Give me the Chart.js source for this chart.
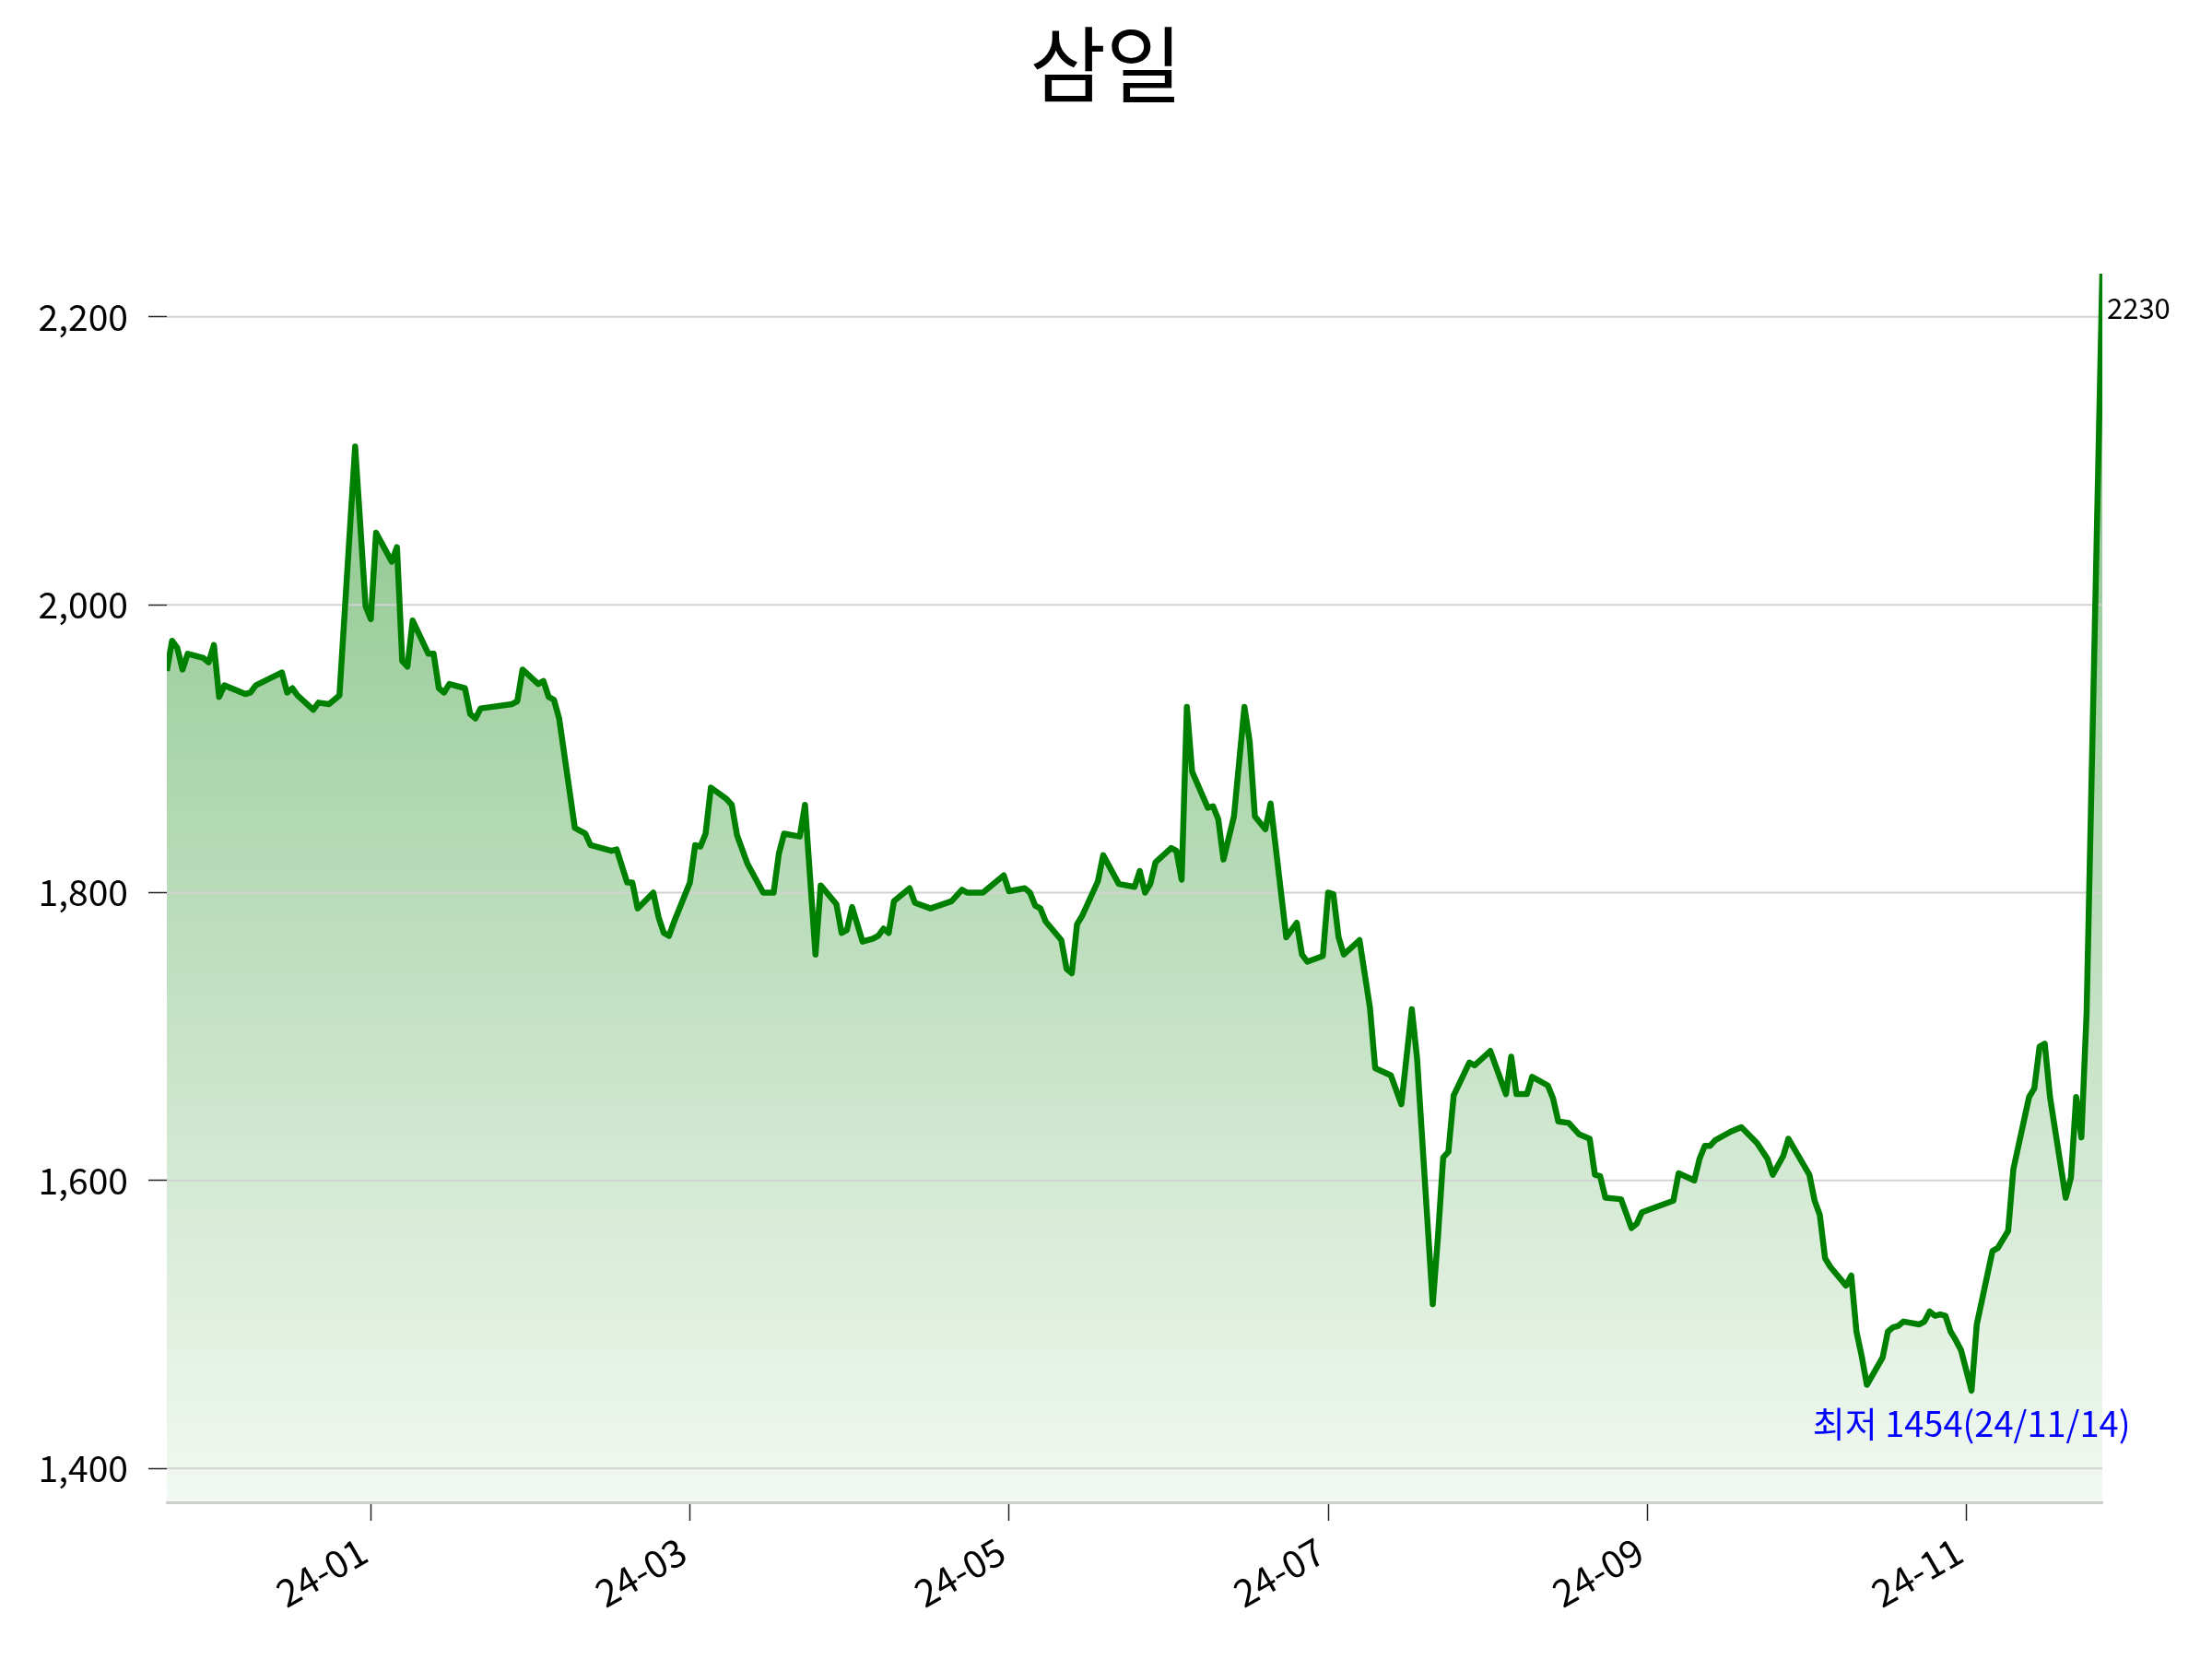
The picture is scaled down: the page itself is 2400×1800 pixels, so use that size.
<!DOCTYPE html>
<html>
<head>
<meta charset="utf-8">
<script src="https://cdn.jsdelivr.net/npm/chart.js@4.4.1/dist/chart.umd.min.js"></script>
<style>
html, body { margin: 0; padding: 0; background: #fff; }
#wrap { width: 2400px; height: 1800px; }
</style>
</head>
<body>
<div id="wrap"><canvas id="stockChart" width="2400" height="1800"></canvas></div>
<script>
// 삼일 종가 - x값은 2023-12-04 부터 경과일
var dayIdx = [
  0, 1, 2, 3, 4, 7, 8, 9, 10, 11, 15, 16, 17, 22, 23, 24, 25, 28, 29, 31,
  33, 36, 38, 39, 40, 43, 44, 45, 46, 47, 50, 51, 52, 53, 54, 57, 58, 59, 60, 66,
  67, 68, 71, 72, 73, 74, 75, 78, 79, 80, 81, 85, 86, 88, 89, 90, 93, 94, 95, 96,
  97, 100, 101, 102, 103, 104, 107, 108, 109, 111, 114, 116, 117, 118, 121, 122, 124, 125, 128, 129,
  130, 131, 133, 135, 136, 137, 138, 139, 142, 143, 146, 150, 152, 153, 156, 160, 161, 164, 165, 166,
  167, 168, 171, 172, 173, 174, 175, 178, 179, 182, 185, 186, 187, 188, 189, 192, 193, 194, 195, 196,
  199, 200, 201, 202, 204, 206, 207, 208, 210, 211, 214, 216, 217, 218, 221, 222, 223, 224, 225, 228,
  230, 231, 234, 236, 238, 239, 242, 243, 244, 245, 246, 249, 250, 253, 256, 257, 258, 260, 261, 264,
  265, 266, 268, 270, 272, 273, 274, 275, 278, 280, 281, 282, 288, 289, 292, 293, 294, 295, 296, 299,
  301, 304, 306, 307, 309, 310, 314, 315, 316, 317, 318, 321, 322, 323, 324, 325, 328, 329, 330, 331,
  332, 335, 336, 337, 338, 339, 340, 341, 342, 343, 345, 346, 349, 350, 351, 352, 353, 356, 357, 358,
  359, 360, 363, 364, 365, 366, 367, 370
];
var closePrices = [
  1954, 1975, 1970, 1955, 1966, 1963, 1960, 1972, 1936, 1944, 1938, 1939, 1944, 1953, 1939, 1942, 1937, 1927, 1932, 1931,
  1937, 2110, 1999, 1990, 2050, 2030, 2040, 1961, 1957, 1989, 1966, 1966, 1942, 1939, 1945, 1942, 1924, 1921, 1928, 1931,
  1933, 1955, 1945, 1947, 1936, 1934, 1921, 1845, 1843, 1841, 1833, 1829, 1830, 1807, 1807, 1789, 1800, 1783, 1772, 1770,
  1780, 1807, 1833, 1832, 1841, 1873, 1865, 1861, 1840, 1820, 1800, 1800, 1827, 1841, 1839, 1861, 1757, 1805, 1792, 1772,
  1774, 1790, 1766, 1768, 1770, 1775, 1772, 1794, 1803, 1793, 1789, 1794, 1802, 1800, 1800, 1812, 1801, 1803, 1800, 1791,
  1789, 1780, 1767, 1747, 1744, 1778, 1784, 1808, 1826, 1806, 1804, 1815, 1800, 1806, 1821, 1831, 1829, 1809, 1929, 1884,
  1859, 1860, 1851, 1823, 1853, 1929, 1905, 1853, 1844, 1862, 1769, 1779, 1757, 1752, 1756, 1800, 1799, 1769, 1757, 1767,
  1720, 1678, 1673, 1653, 1719, 1685, 1514, 1561, 1616, 1620, 1659, 1682, 1680, 1690, 1660, 1686, 1660, 1660, 1672, 1666,
  1657, 1641, 1640, 1632, 1629, 1604, 1603, 1588, 1587, 1567, 1570, 1578, 1586, 1605, 1600, 1615, 1624, 1624, 1628, 1634,
  1637, 1626, 1615, 1604, 1617, 1629, 1604, 1586, 1576, 1546, 1540, 1527, 1534, 1495, 1478, 1458, 1477, 1495, 1498, 1499,
  1502, 1500, 1502, 1509, 1506, 1507, 1506, 1495, 1489, 1482, 1454, 1500, 1551, 1553, 1559, 1565, 1608, 1658, 1664, 1693,
  1695, 1658, 1588, 1602, 1658, 1630, 1717, 2230
];
var yTickValues = [1400, 1600, 1800, 2000, 2200];
var xTickDays = [39, 100, 161, 222, 283, 344];
var xTickLabels = ['24-01', '24-03', '24-05', '24-07', '24-09', '24-11'];
var chartTitle = '삼일';
var minDateLabel = '24/11/14';

var lowest = Math.min.apply(null, closePrices);
var highest = Math.max.apply(null, closePrices);
var lowPos = closePrices.indexOf(lowest);
var lastPos = closePrices.length - 1;

var points = dayIdx.map(function (d, i) { return { x: d, y: closePrices[i] }; });

var FONT = '"Noto Sans CJK KR", "Noto Sans", sans-serif';
Chart.defaults.font.family = FONT;
Chart.defaults.color = '#000';

// 제목은 캔버스 가운데에
var titleText = {
  id: 'titleText',
  afterDraw: function (chart) {
    var ctx = chart.ctx;
    ctx.save();
    ctx.font = '90px ' + FONT;
    ctx.fillStyle = '#000';
    ctx.textAlign = 'center';
    ctx.textBaseline = 'middle';
    ctx.fillText(chartTitle, chart.width / 2, 70);
    ctx.restore();
  }
};

// 가로 격자선은 면 채우기 위, 선 아래에 그린다
var gridOverFill = {
  id: 'gridOverFill',
  afterDatasetDraw: function (chart, args) {
    if (args.index !== 0) return;
    var ctx = chart.ctx, area = chart.chartArea, ys = chart.scales.y;
    ctx.save();
    ctx.strokeStyle = '#d2d2d2';
    ctx.lineWidth = 2;
    ys.ticks.forEach(function (t) {
      var py = ys.getPixelForValue(t.value);
      ctx.beginPath();
      ctx.moveTo(area.left, py);
      ctx.lineTo(area.right, py);
      ctx.stroke();
    });
    ctx.restore();
  }
};

var extremeLabels = {
  id: 'extremeLabels',
  afterDatasetsDraw: function (chart) {
    var ctx = chart.ctx, xs = chart.scales.x, ys = chart.scales.y;
    ctx.save();
    ctx.textBaseline = 'top';
    ctx.font = '31px ' + FONT;
    ctx.fillStyle = '#000';
    ctx.textAlign = 'left';
    ctx.fillText(String(closePrices[lastPos]),
      xs.getPixelForValue(dayIdx[lastPos]) + 5,
      ys.getPixelForValue(closePrices[lastPos]) + 22);
    ctx.font = '38px ' + FONT;
    ctx.fillStyle = '#0000ff';
    ctx.textAlign = 'center';
    ctx.fillText('최저 ' + lowest + '(' + minDateLabel + ')',
      xs.getPixelForValue(dayIdx[lowPos]),
      ys.getPixelForValue(lowest) + 17);
    ctx.restore();
  }
};

new Chart(document.getElementById('stockChart'), {
  type: 'line',
  data: {
    datasets: [{
      data: points,
      borderWidth: 0,
      borderColor: 'rgba(0,0,0,0)',
      pointRadius: 0,
      fill: 'start',
      order: 2,
      backgroundColor: function (c) {
        var area = c.chart.chartArea;
        if (!area) return 'rgba(0,128,0,0.2)';
        var g = c.chart.ctx.createLinearGradient(0, area.top, 0, area.bottom);
        g.addColorStop(0, 'rgba(0,128,0,0.50)');
        g.addColorStop(1, 'rgba(0,128,0,0.05)');
        return g;
      }
    }, {
      data: points,
      borderColor: '#008000',
      borderWidth: 6.5,
      borderJoinStyle: 'round',
      pointRadius: 0,
      fill: false,
      order: 1
    }]
  },
  options: {
    responsive: false,
    devicePixelRatio: 1,
    animation: false,
    layout: { padding: { left: 0, right: 119, top: 297, bottom: 0 } },
    plugins: {
      legend: { display: false },
      tooltip: { enabled: false },
      title: { display: false }
    },
    scales: {
      x: {
        type: 'linear',
        min: dayIdx[0],
        max: dayIdx[lastPos],
        afterBuildTicks: function (axis) {
          axis.ticks = xTickDays.map(function (v) { return { value: v }; });
        },
        afterFit: function (axis) { axis.height = 170; },
        ticks: {
          autoSkip: false,
          minRotation: 30,
          maxRotation: 30,
          padding: 8,
          labelOffset: -8,
          font: { size: 41 },
          color: '#000',
          callback: function (value) {
            var k = xTickDays.indexOf(value);
            return k >= 0 ? xTickLabels[k] : '';
          }
        },
        grid: {
          drawOnChartArea: false,
          drawTicks: true,
          tickLength: 20,
          tickColor: '#222',
          tickWidth: 1.5
        },
        border: { display: true, color: '#cfcfcf', width: 3 }
      },
      y: {
        type: 'linear',
        min: lowest - (highest - lowest) * 0.1,
        max: highest,
        afterBuildTicks: function (axis) {
          axis.ticks = yTickValues.map(function (v) { return { value: v }; });
        },
        afterFit: function (axis) { axis.width = 181; },
        ticks: {
          padding: 22,
          font: { size: 39 },
          color: '#000',
          callback: function (value) { return Number(value).toLocaleString('en-US'); }
        },
        grid: {
          drawOnChartArea: false,
          drawTicks: true,
          tickLength: 20,
          tickColor: '#222',
          tickWidth: 1.5
        },
        border: { display: false }
      }
    }
  },
  plugins: [gridOverFill, extremeLabels, titleText]
});
</script>
</body>
</html>
